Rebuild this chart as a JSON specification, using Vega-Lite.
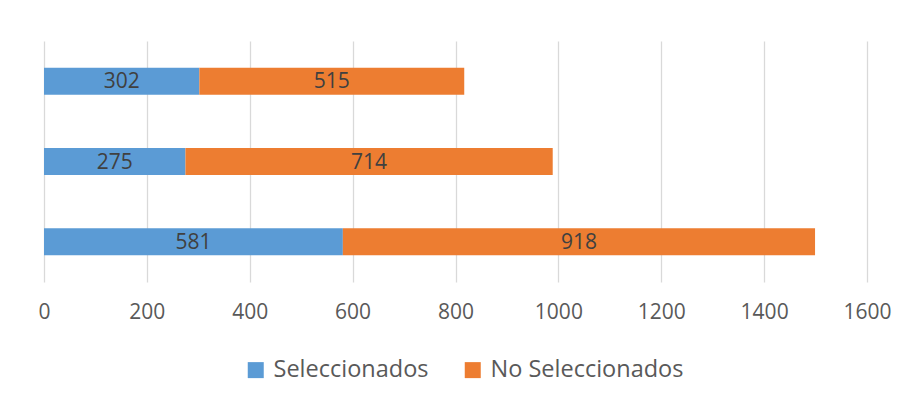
{
  "$schema": "https://vega.github.io/schema/vega-lite/v6.json",
  "autosize": "none",
  "width": 823,
  "height": 241,
  "padding": {"left": 44, "top": 41, "right": 39, "bottom": 123},
  "background": "white",
  "config": {
    "view": {"stroke": null},
    "font": "Open Sans"
  },
  "data": {
    "values": [
      {"fila": "1", "serie": "Seleccionados", "valor": 302},
      {"fila": "1", "serie": "No Seleccionados", "valor": 515},
      {"fila": "2", "serie": "Seleccionados", "valor": 275},
      {"fila": "2", "serie": "No Seleccionados", "valor": 714},
      {"fila": "3", "serie": "Seleccionados", "valor": 581},
      {"fila": "3", "serie": "No Seleccionados", "valor": 918}
    ]
  },
  "transform": [
    {"stack": "valor", "groupby": ["fila"], "sort": [{"field": "serie", "order": "descending"}], "as": ["x0", "x1"]},
    {"calculate": "(datum.x0 + datum.x1) / 2", "as": "mid"}
  ],
  "encoding": {
    "y": {
      "field": "fila", "type": "nominal", "sort": ["1", "2", "3"],
      "scale": {"paddingInner": 0.664, "paddingOuter": 0.332},
      "axis": null
    }
  },
  "layer": [
    {
      "mark": {"type": "bar"},
      "encoding": {
        "x": {
          "field": "x0", "type": "quantitative",
          "scale": {"domain": [0, 1600], "nice": false},
          "axis": {
            "title": null, "values": [0, 200, 400, 600, 800, 1000, 1200, 1400, 1600],
            "format": "d",
            "domain": false, "ticks": false, "labelPadding": 19,
            "labelFontSize": 21, "labelColor": "#595959", "labelFont": "Open Sans",
            "gridColor": "#D9D9D9", "gridWidth": 1.3, "labelFlush": false
          }
        },
        "x2": {"field": "x1"},
        "color": {
          "field": "serie", "type": "nominal",
          "scale": {"domain": ["Seleccionados", "No Seleccionados"], "range": ["#5B9BD5", "#ED7D31"]},
          "legend": {
            "title": null, "orient": "none", "direction": "horizontal",
            "legendX": 200, "legendY": 317,
            "symbolType": "square", "symbolSize": 256, "symbolStrokeWidth": 0,
            "labelFontSize": 23.5, "labelColor": "#595959", "labelFont": "Open Sans",
            "labelLimit": 0,
            "columnPadding": 32, "labelOffset": 6
          }
        }
      }
    },
    {
      "mark": {"type": "text", "fontSize": 21, "color": "#404040", "font": "Open Sans", "baseline": "middle", "dy": 1},
      "encoding": {
        "x": {"field": "mid", "type": "quantitative"},
        "text": {"field": "valor", "type": "quantitative"}
      }
    }
  ]
}
